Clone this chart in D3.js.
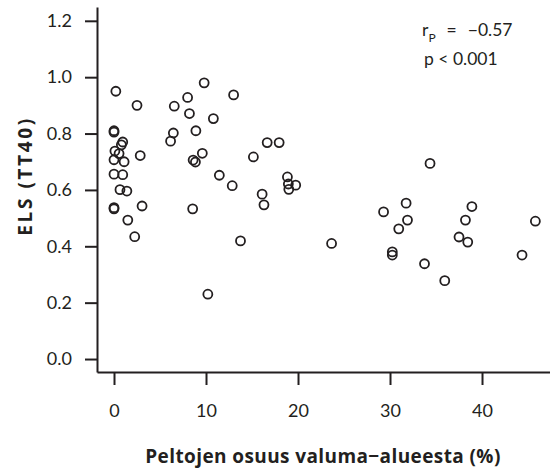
<!DOCTYPE html>
<html>
<head>
<meta charset="utf-8">
<script src="https://cdn.jsdelivr.net/npm/d3@7/dist/d3.min.js"></script>
<style>
  html, body { margin: 0; padding: 0; background: #fff; }
  svg { display: block; }
  text { font-family: Lato, "Open Sans", sans-serif; fill: #231f20; }
</style>
</head>
<body>
<svg id="chart" width="550" height="472"></svg>
<script>
// Field share of catchment (%)
const fieldShare = [
  0.2, 2.5, 0, 0, 0.95, 0.8, 0.1, 0.55, 0, 1.1, 2.85, 0, 0.95, 0.65, 1.4, 0, 0, 3.05, 1.5, 2.25,
  9.8, 13.0, 8.0, 6.55, 8.2, 10.8, 6.45, 6.15, 8.9, 9.6, 8.6, 8.85, 11.45, 12.85, 8.55, 13.75, 10.2,
  16.65, 17.95, 15.15, 18.85, 18.95, 19.75, 19.0, 16.1, 16.3, 23.65,
  34.35, 29.3, 31.75, 31.9, 30.95, 30.25, 30.25, 33.75, 35.95, 38.9, 38.2, 37.5, 38.45, 44.35, 45.8
];
// ELS (TT40)
const elsValue = [
  0.95, 0.90, 0.81, 0.805, 0.77, 0.76, 0.738, 0.729, 0.707, 0.70, 0.722, 0.656, 0.654, 0.601, 0.596, 0.537, 0.533, 0.543, 0.493, 0.434,
  0.98, 0.937, 0.928, 0.897, 0.871, 0.853, 0.802, 0.773, 0.810, 0.730, 0.706, 0.699, 0.652, 0.615, 0.533, 0.419, 0.230,
  0.768, 0.768, 0.717, 0.646, 0.621, 0.617, 0.602, 0.585, 0.547, 0.410,
  0.694, 0.522, 0.553, 0.493, 0.462, 0.380, 0.369, 0.338, 0.278, 0.541, 0.493, 0.433, 0.415, 0.369, 0.489
];
const xTicks = [0, 10, 20, 30, 40];
const yTicks = [0.0, 0.2, 0.4, 0.6, 0.8, 1.0, 1.2];
const xTitle = "Peltojen osuus valuma\u2212alueesta (%)";
const yTitle = "ELS (TT40)";
const statEq = "=";
const statRVal = "\u22120.57";
const statP = "p < 0.001";

const svg = d3.select("#chart");
const ink = "#231f20";

const x = d3.scaleLinear().domain([-1.848, 47.39]).range([97, 550]);
const y = d3.scaleLinear().domain([-0.046, 1.249]).range([372, 7]);

// Y axis
const yAxis = svg.append("g").attr("transform", "translate(97,0)")
  .call(d3.axisLeft(y).tickValues(yTicks).tickFormat(d3.format(".1f"))
        .tickSize(12).tickSizeOuter(0).tickPadding(13));
// X axis
const xAxis = svg.append("g").attr("transform", "translate(0,372)")
  .call(d3.axisBottom(x).tickValues(xTicks).tickFormat(d3.format("d"))
        .tickSize(13).tickSizeOuter(0).tickPadding(19));

[yAxis, xAxis].forEach(g => {
  g.select(".domain").attr("stroke", ink).attr("stroke-width", 2);
  g.selectAll(".tick line").attr("stroke", ink).attr("stroke-width", 2);
  g.selectAll(".tick text").attr("fill", ink).style("font-size", "18px")
    .style("font-family", "Lato, 'Open Sans', sans-serif");
});

// Points
svg.append("g").selectAll("circle")
  .data(d3.range(fieldShare.length))
  .join("circle")
  .attr("cx", i => x(fieldShare[i]))
  .attr("cy", i => y(elsValue[i]))
  .attr("r", 4.5)
  .attr("fill", "none")
  .attr("stroke", ink)
  .attr("stroke-width", 1.8);

// Axis titles
svg.append("text")
  .attr("x", 323).attr("y", 463)
  .attr("text-anchor", "middle")
  .style("font-family", "'Open Sans', Lato, sans-serif")
  .style("font-size", "19px").style("font-weight", "bold")
  .style("letter-spacing", "0.4px")
  .text(xTitle);

svg.append("text")
  .attr("transform", "translate(32,176) rotate(-90)")
  .attr("text-anchor", "middle")
  .style("font-family", "'Open Sans', Lato, sans-serif")
  .style("font-size", "19px").style("font-weight", "bold")
  .style("letter-spacing", "2.6px")
  .text(yTitle);

// Stats annotation
const t1 = svg.append("text").attr("x", 422).attr("y", 35.5).style("font-size", "17.5px");
t1.append("tspan").text("r");
t1.append("tspan").attr("dy", 6).style("font-size", "12px").text("P");
t1.append("tspan").attr("dy", -6).attr("dx", 11).text(statEq);
t1.append("tspan").attr("dx", 11).text(statRVal);

svg.append("text").attr("x", 424).attr("y", 65).style("font-size", "17.5px").text(statP);
</script>
</body>
</html>
